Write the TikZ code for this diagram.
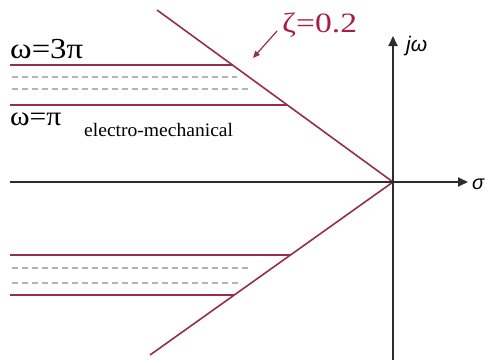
\documentclass[tikz,border=0pt]{standalone}
\usepackage{fontspec}
\setmainfont{Liberation Serif}
\setsansfont{Liberation Sans}
\usetikzlibrary{arrows.meta}
\definecolor{maroon}{RGB}{150,45,80}
\definecolor{zcol}{RGB}{170,30,70}
\definecolor{dashgray}{RGB}{180,180,180}
\definecolor{axisgray}{RGB}{45,45,45}
\begin{document}
\begin{tikzpicture}[x=1pt,y=-1pt,
  axisline/.style={draw=axisgray,line width=1.8pt,-{Triangle[length=10pt,width=9pt]}},
  rootline/.style={draw=maroon,line width=1.6pt},
  dashline/.style={draw=dashgray,line width=1.2pt,dash pattern=on 6pt off 4pt},
  lbl/.style={inner sep=0pt,anchor=base west}]
\useasboundingbox (0,0) rectangle (485,360);
% coordinates
\coordinate (O) at (393,182);
\coordinate (Dt) at (157,10);
\coordinate (Db) at (150,355);
\coordinate (Xl) at (10,182);
\coordinate (Xr) at (468,182);
\coordinate (Yb) at (393,360);
\coordinate (Yt) at (393,36);
% upper band
\coordinate (a1) at (10,65);  \coordinate (a2) at (232.5,65);
\coordinate (b1) at (10,105); \coordinate (b2) at (287.4,105);
\coordinate (c1) at (12,77);  \coordinate (c2) at (237,77);
\coordinate (d1) at (12,89);  \coordinate (d2) at (250,89);
% lower band
\coordinate (e1) at (10,255); \coordinate (e2) at (290.5,255);
\coordinate (f1) at (10,295); \coordinate (f2) at (234.3,295);
\coordinate (g1) at (12,268); \coordinate (g2) at (250,268);
\coordinate (h1) at (12,283); \coordinate (h2) at (238,283);
% dashed
\draw[dashline] (c1) -- (c2);
\draw[dashline] (d1) -- (d2);
\draw[dashline] (g1) -- (g2);
\draw[dashline] (h1) -- (h2);
% solid
\draw[rootline] (a1) -- (a2);
\draw[rootline] (b1) -- (b2);
\draw[rootline] (e1) -- (e2);
\draw[rootline] (f1) -- (f2);
\draw[rootline] (Dt) -- (O) -- (Db);
% axes
\draw[axisline] (Xl) -- (Xr);
\draw[axisline] (Yb) -- (Yt);
% labels
\node[lbl] (w3) at (10,58) {\fontsize{29}{30}\selectfont\scalebox{1.13}[1]{ω=3π}};
\node[lbl] (w1) at (10,125) {\fontsize{27}{28}\selectfont\scalebox{1.1}[1]{ω=π}};
\node[lbl] (em) at (84,136) {\fontsize{19}{20}\selectfont\scalebox{1.03}[1]{electro-mechanical}};
\node[lbl,text=zcol] (zeta) at (282,32) {\fontsize{28}{30}\selectfont\scalebox{1.2}[1]{ζ=0.2}};
\node[lbl] (jw) at (406,51) {\fontsize{21}{22}\selectfont\sffamily\itshape jω};
\node[lbl] (sig) at (472,189) {\fontsize{20}{20}\selectfont\sffamily\itshape σ};
% zeta arrow
\coordinate (za) at (277,31);
\coordinate (zb) at (253,58);
\draw[draw=maroon,line width=1.2pt,-{Triangle[length=7pt,width=6pt]}] (za) -- (zb);
\end{tikzpicture}
\end{document}
